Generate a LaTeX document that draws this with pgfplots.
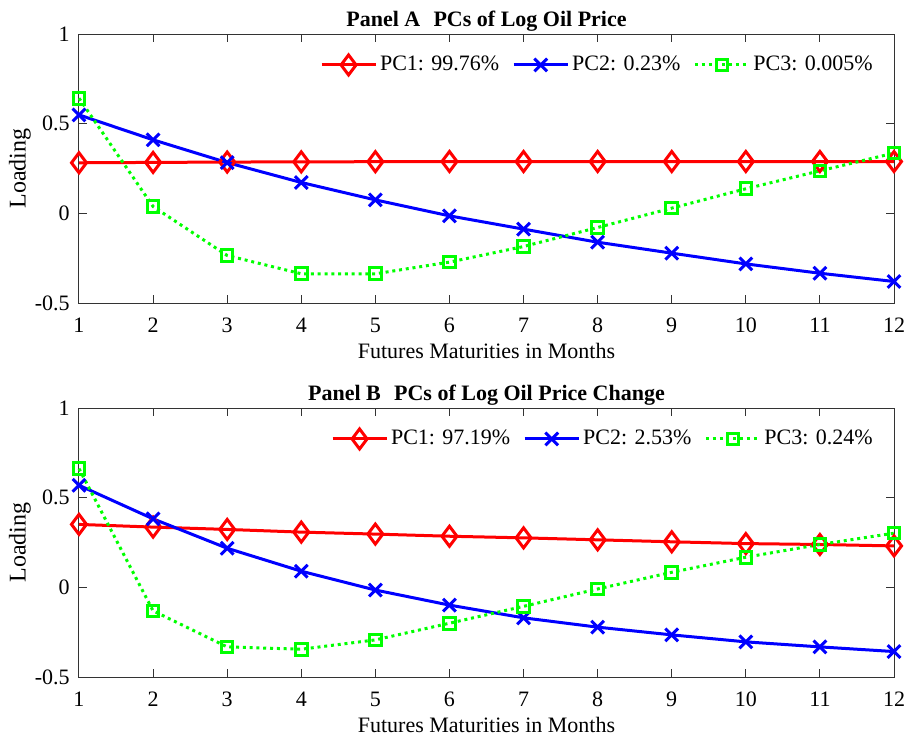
\documentclass[border=0pt]{standalone}
\usepackage{fontspec}
\setmainfont{Liberation Serif}
\usepackage{pgfplots}
\pgfplotsset{compat=1.18}
\definecolor{pcred}{RGB}{255,0,0}
\definecolor{pcblue}{RGB}{0,0,255}
\definecolor{pcgreen}{RGB}{0,255,0}
\pgfplotsset{
  panel/.style={
    width=407.5pt, height=134.5pt, scale only axis,
    xmin=1, xmax=12, ymin=-0.5, ymax=1,
    xtick={1,...,12},
    ytick={-0.5,0,0.5,1},
    yticklabels={-0.5,0,0.5,1},
    xticklabels={1,2,3,4,5,6,7,8,9,10,11,12},
    tick align=inside,
    major tick length=4pt,
    axis line style={black!80, line width=0.5pt},
    every tick/.style={black!80, line width=0.5pt},
    clip=false,
    xticklabel style={font=\fontsize{11}{13}\selectfont, anchor=base, inner sep=0pt, yshift=-14.8pt},
    yticklabel style={font=\fontsize{11}{13}\selectfont, anchor=east, inner sep=0pt, xshift=-4.5pt},
    xlabel={Futures Maturities in Months},
    ylabel={Loading},
    xlabel style={font=\fontsize{11}{13}\selectfont, at={(axis description cs:0.5,-0.2067)}, anchor=base, inner sep=0pt},
    ylabel style={font=\fontsize{12}{14}\selectfont, at={(axis description cs:-0.0724,0.5)}, anchor=center, inner sep=0pt},
    every axis title shift=0pt,
    title style={font=\fontsize{11}{13}\selectfont\bfseries, at={(axis description cs:0.5,1.029)}, anchor=base, inner sep=0pt},
    legend columns=3,
    legend style={draw=none, fill=none, at={(axis description cs:1,0.885)}, anchor=east, xshift=-9pt,
      font=\fontsize{11}{13}\selectfont, inner sep=0pt,
      nodes={inner xsep=1.5pt, inner ysep=1pt},
      /tikz/every even column/.append style={column sep=5pt}},
    legend image code/.code={\draw[mark repeat=2,mark phase=2,#1] plot coordinates {(0pt,0pt) (13.5pt,0pt) (27pt,0pt)};},
  },
  s1/.style={color=pcred, line width=1.5pt, mark=diamond, mark size=5pt, mark options={solid}},
  s2/.style={color=pcblue, line width=1.5pt, mark=x, mark size=4.5pt, mark options={solid}},
  s3/.style={color=pcgreen, line width=1.5pt, dash pattern=on 1.5pt off 1.9pt, mark=square, mark size=2.9pt, mark options={solid}},
}
\begin{document}
\begin{tikzpicture}
\begin{axis}[panel, title={Panel A\hskip0.6em PCs of Log Oil Price}]
\addplot[s1] coordinates {(1,0.282) (2,0.284) (3,0.286) (4,0.287) (5,0.288) (6,0.289) (7,0.289) (8,0.289) (9,0.289) (10,0.289) (11,0.289) (12,0.289)};
\addplot[s2] coordinates {(1,0.549) (2,0.410) (3,0.283) (4,0.172) (5,0.075) (6,-0.014) (7,-0.088) (8,-0.161) (9,-0.222) (10,-0.282) (11,-0.334) (12,-0.380)};
\addplot[s3] coordinates {(1,0.642) (2,0.038) (3,-0.235) (4,-0.337) (5,-0.337) (6,-0.272) (7,-0.185) (8,-0.079) (9,0.029) (10,0.137) (11,0.237) (12,0.336)};
\legend{PC1: 99.76\%, PC2: 0.23\%, PC3: 0.005\%}
\end{axis}
\begin{axis}[panel, at={(0,-187pt)}, title={Panel B\hskip0.6em PCs of Log Oil Price Change}]
\addplot[s1] coordinates {(1,0.351) (2,0.336) (3,0.323) (4,0.308) (5,0.297) (6,0.285) (7,0.276) (8,0.265) (9,0.254) (10,0.244) (11,0.239) (12,0.231)};
\addplot[s2] coordinates {(1,0.569) (2,0.382) (3,0.218) (4,0.090) (5,-0.015) (6,-0.099) (7,-0.170) (8,-0.222) (9,-0.265) (10,-0.304) (11,-0.332) (12,-0.358)};
\addplot[s3] coordinates {(1,0.662) (2,-0.131) (3,-0.332) (4,-0.345) (5,-0.293) (6,-0.200) (7,-0.106) (8,-0.009) (9,0.084) (10,0.168) (11,0.239) (12,0.302)};
\legend{PC1: 97.19\%, PC2: 2.53\%, PC3: 0.24\%}
\end{axis}
\pgfresetboundingbox
\path (-39.5pt,-216.5pt) rectangle (415pt,151.5pt);
\end{tikzpicture}
\end{document}
